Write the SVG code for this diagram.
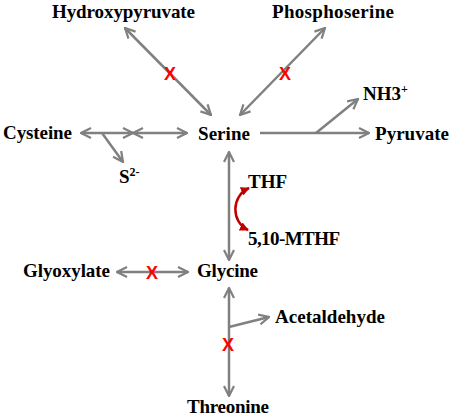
<svg xmlns="http://www.w3.org/2000/svg" width="454" height="420" viewBox="0 0 454 420">
<style>
.lbl{font-family:"Liberation Serif","Times New Roman",serif;font-weight:bold;font-size:19px;fill:#000}
.sup{font-size:12px}
.ln{stroke:#808080;stroke-width:2.5;fill:none}
.x{font-family:"Liberation Sans",Arial,sans-serif;font-weight:bold;font-size:18px;fill:#ff0000;text-anchor:middle}
</style>
<defs>
<marker id="ah" viewBox="0 0 12 12" markerWidth="12" markerHeight="12" refX="11" refY="6" orient="auto-start-reverse" markerUnits="userSpaceOnUse">
<path d="M1,1 L11,6 L1,11" fill="none" stroke="#808080" stroke-width="2.2"/>
</marker>
<marker id="rh" viewBox="0 0 10 10" markerWidth="9" markerHeight="9" refX="9" refY="5" orient="auto-start-reverse" markerUnits="userSpaceOnUse">
<path d="M0,0 L10,5 L0,10 Z" fill="#c00000"/>
</marker>
</defs>
<rect width="454" height="420" fill="#fff"/>
<g id="connectors">
<line class="ln" x1="125" y1="28" x2="211" y2="115" marker-start="url(#ah)" marker-end="url(#ah)"/>
<line class="ln" x1="325" y1="28" x2="240" y2="115" marker-start="url(#ah)" marker-end="url(#ah)"/>
<line class="ln" x1="260" y1="133" x2="369" y2="133" marker-end="url(#ah)"/>
<line class="ln" x1="316" y1="133" x2="358" y2="99" marker-end="url(#ah)"/>
<line class="ln" x1="81" y1="133" x2="133" y2="133" marker-start="url(#ah)" marker-end="url(#ah)"/>
<line class="ln" x1="133" y1="133" x2="187" y2="133" marker-start="url(#ah)" marker-end="url(#ah)"/>
<line class="ln" x1="102" y1="133" x2="123" y2="162" marker-end="url(#ah)"/>
<line class="ln" x1="229" y1="152" x2="229" y2="260" marker-start="url(#ah)" marker-end="url(#ah)"/>
<line class="ln" x1="117" y1="272" x2="188" y2="272" marker-start="url(#ah)" marker-end="url(#ah)"/>
<line class="ln" x1="229" y1="288" x2="229" y2="396" marker-start="url(#ah)" marker-end="url(#ah)"/>
<line class="ln" x1="229" y1="327" x2="269" y2="317" marker-end="url(#ah)"/>
<path d="M249,188 C231,196 231,222 248,230" fill="none" stroke="#c00000" stroke-width="2.5" marker-start="url(#rh)" marker-end="url(#rh)"/>
<text class="x" x="170" y="80">X</text>
<text class="x" x="285" y="80">X</text>
<text class="x" x="152" y="279">X</text>
<text class="x" x="228" y="351">X</text>
</g>
<g id="hydroxypyruvate"><text class="lbl" x="52" y="18" textLength="143">Hydroxypyruvate</text></g>
<g id="phosphoserine"><text class="lbl" x="272" y="18" textLength="122">Phosphoserine</text></g>
<g id="nh3"><text class="lbl" x="363" y="100">NH3<tspan class="sup" dy="-7">+</tspan></text></g>
<g id="serine"><text class="lbl" x="198" y="140" textLength="52">Serine</text></g>
<g id="pyruvate"><text class="lbl" x="375" y="140" textLength="74">Pyruvate</text></g>
<g id="cysteine"><text class="lbl" x="3" y="139" textLength="69">Cysteine</text></g>
<g id="s2"><text class="lbl" x="119" y="183">S<tspan class="sup" dy="-7">2-</tspan></text></g>
<g id="thf"><text class="lbl" x="248" y="188">THF</text></g>
<g id="mthf"><text class="lbl" x="248" y="245" textLength="92">5,10-MTHF</text></g>
<g id="glyoxylate"><text class="lbl" x="23" y="277" textLength="87">Glyoxylate</text></g>
<g id="glycine"><text class="lbl" x="197" y="277" textLength="61">Glycine</text></g>
<g id="acetaldehyde"><text class="lbl" x="275" y="323" textLength="110">Acetaldehyde</text></g>
<g id="threonine"><text class="lbl" x="187" y="413" textLength="82">Threonine</text></g>
</svg>
